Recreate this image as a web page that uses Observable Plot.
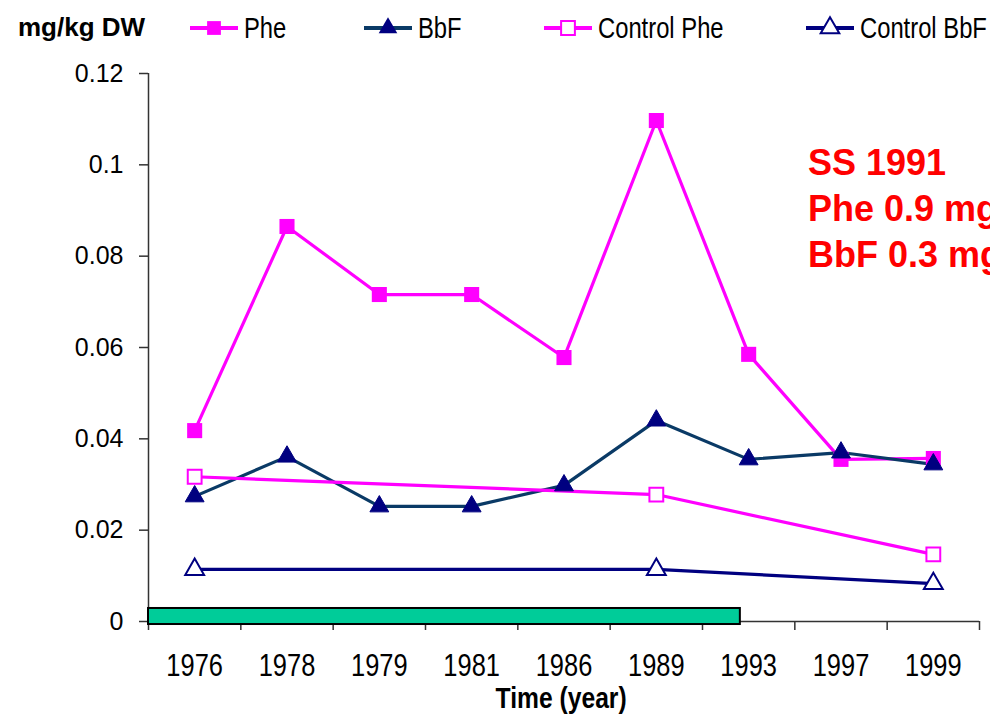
<!DOCTYPE html>
<html>
<head>
<meta charset="utf-8">
<script src="https://cdn.jsdelivr.net/npm/d3@7"></script>
<script src="https://cdn.jsdelivr.net/npm/@observablehq/plot@0.6"></script>
<style>
  html, body { margin: 0; padding: 0; background: #fff; overflow: hidden; }
  #wrap { position: relative; width: 990px; height: 721px; overflow: hidden; font-family: "Liberation Sans", Arial, sans-serif; }
  .abs { position: absolute; white-space: nowrap; }
  .squeeze { display: inline-block; transform: scaleX(0.82); transform-origin: 0 50%; }
  #unit { left: 18px; top: 12px; font: bold 26px "Liberation Sans", Arial, sans-serif; }
  .leg { top: 10px; font-size: 29px; line-height: 36px; display: flex; align-items: center; }
  .leg svg { display: block; margin-right: 4px; }
  #note { left: 808px; top: 140px; font: bold 36px/46px "Liberation Sans", Arial, sans-serif; color: #FF0000; }
  #xlabel { left: 0; width: 1122px; text-align: center; top: 682px; font-weight: bold; font-size: 29px; }
  #xlabel span { display: inline-block; transform: scaleX(0.85); transform-origin: 50% 50%; }
</style>
</head>
<body>
<div id="wrap"></div>
<script>
// ---- data ----
const years = ["1976", "1978", "1979", "1981", "1986", "1989", "1993", "1997", "1999"];
const phe = [0.0418, 0.0865, 0.0716, 0.0716, 0.0578, 0.1097, 0.0585, 0.0355, 0.0357];
const bbf = [0.0274, 0.0361, 0.0252, 0.0252, 0.0298, 0.0440, 0.0355, 0.0370, 0.0344];
const controlPhe = [0.0317, null, null, null, null, 0.0278, null, null, 0.0147];
const controlBbf = [0.0114, null, null, null, null, 0.0114, null, null, 0.0083];
const yTicks = [0, 0.02, 0.04, 0.06, 0.08, 0.1, 0.12];
const yTickLabels = ["0", "0.02", "0.04", "0.06", "0.08", "0.1", "0.12"];
// green period bar, in category-position units (start, end) and value span
const periodBar = [{x1: 0, x2: 6.41, y1: -0.00066, y2: 0.00285}];
const legendItems = [
  {name: "Phe", color: "#FF00FF", line: "#FF00FF", symbol: "square", hollow: false, left: 190},
  {name: "BbF", color: "#000080", line: "#0A3A66", symbol: "triangle", hollow: false, left: 364},
  {name: "Control Phe", color: "#FF00FF", line: "#FF00FF", symbol: "square", hollow: true, left: 544},
  {name: "Control BbF", color: "#000080", line: "#000080", symbol: "triangle", hollow: true, left: 806}
];
const noteLines = ["SS 1991", "Phe 0.9 mg/kg", "BbF 0.3 mg/kg"];
const xTitle = "Time (year)";
const unitTitle = "mg/kg DW";

// ---- build rows ----
const rows = years.map((y, i) => ({pos: i + 0.5, year: y, phe: phe[i], bbf: bbf[i], cphe: controlPhe[i], cbbf: controlBbf[i]}));
const cPheRows = rows.filter(d => d.cphe != null);
const cBbfRows = rows.filter(d => d.cbbf != null);

const chart = Plot.plot({
  width: 990,
  height: 721,
  marginLeft: 148,
  marginRight: 11,
  marginTop: 73,
  marginBottom: 100,
  style: {background: "white", color: "black", fontFamily: "Liberation Sans, Arial, sans-serif"},
  x: {type: "linear", domain: [0, years.length], axis: null},
  y: {domain: [0, 0.12], axis: null},
  marks: [
    Plot.axisY({ticks: yTicks, tickFormat: d => yTickLabels[yTicks.indexOf(d)], tickSize: 9, tickPadding: 16,
      fontSize: 25, stroke: "#333", strokeWidth: 1.5, label: null}),
    Plot.axisX({ticks: d3.range(years.length + 1), tickFormat: () => "", tickSize: 9, stroke: "#333", strokeWidth: 1.5, label: null}),
    Plot.axisX({ticks: rows.map(d => d.pos), tickFormat: d => years[Math.floor(d)], tickSize: 0, tickPadding: 32,
      fontSize: 31, label: null, ariaLabel: "xlabels"}),
    Plot.ruleX([0], {y1: 0, y2: 0.12, stroke: "#333", strokeWidth: 1.5}),
    Plot.ruleY([0], {stroke: "#333", strokeWidth: 1.5}),
    Plot.rect(periodBar, {x1: "x1", x2: "x2", y1: "y1", y2: "y2", fill: "#00CC99", stroke: "black", strokeWidth: 2}),
    Plot.line(rows, {x: "pos", y: "phe", stroke: "#FF00FF", strokeWidth: 3.2}),
    Plot.line(rows, {x: "pos", y: "bbf", stroke: "#0A3A66", strokeWidth: 3.2}),
    Plot.line(cPheRows, {x: "pos", y: "cphe", stroke: "#FF00FF", strokeWidth: 3.2}),
    Plot.line(cBbfRows, {x: "pos", y: "cbbf", stroke: "#000080", strokeWidth: 3.2}),
    Plot.dot(rows, {x: "pos", y: "phe", symbol: "square", r: 8.5, fill: "#FF00FF", stroke: "#FF00FF", strokeWidth: 0}),
    Plot.dot(rows, {x: "pos", y: "bbf", symbol: "triangle", r: 7, fill: "#000080", stroke: "#000080", strokeWidth: 1}),
    Plot.dot(cPheRows, {x: "pos", y: "cphe", symbol: "square", r: 7.8, fill: "white", stroke: "#FF00FF", strokeWidth: 2}),
    Plot.dot(cBbfRows, {x: "pos", y: "cbbf", symbol: "triangle", r: 7, fill: "white", stroke: "#000080", strokeWidth: 2})
  ]
});

const wrap = document.getElementById("wrap");
chart.style.position = "absolute";
chart.style.left = "0";
chart.style.top = "0";
wrap.appendChild(chart);

// condense the x tick labels (narrow face in the original)
const yearSet = new Set(years);
chart.querySelectorAll("text").forEach(t => {
  if (!yearSet.has(t.textContent)) return;
  const w = t.getComputedTextLength();
  if (w > 0) {
    t.setAttribute("textLength", (w * 0.82).toFixed(1));
    t.setAttribute("lengthAdjust", "spacingAndGlyphs");
  }
});

// unit label
const unit = document.createElement("div");
unit.id = "unit"; unit.className = "abs"; unit.textContent = unitTitle;
wrap.appendChild(unit);

// legend
const ns = "http://www.w3.org/2000/svg";
for (const it of legendItems) {
  const div = document.createElement("div");
  div.className = "abs leg";
  div.style.left = it.left + "px";
  const svg = document.createElementNS(ns, "svg");
  svg.setAttribute("width", 50); svg.setAttribute("height", 36);
  const ln = document.createElementNS(ns, "line");
  ln.setAttribute("x1", 0); ln.setAttribute("x2", 48); ln.setAttribute("y1", 18); ln.setAttribute("y2", 18);
  ln.setAttribute("stroke", it.line); ln.setAttribute("stroke-width", 4);
  svg.appendChild(ln);
  const p = document.createElementNS(ns, "path");
  const sym = it.symbol === "square" ? d3.symbolSquare : d3.symbolTriangle;
  p.setAttribute("d", d3.symbol(sym, it.symbol === "square" ? 190 : 150)());
  p.setAttribute("transform", "translate(24,18)");
  p.setAttribute("fill", it.hollow ? "white" : it.color);
  p.setAttribute("stroke", it.color);
  p.setAttribute("stroke-width", it.hollow ? 2 : 0);
  svg.appendChild(p);
  div.appendChild(svg);
  const t = document.createElement("span");
  t.className = "squeeze";
  t.textContent = it.name;
  div.appendChild(t);
  wrap.appendChild(div);
}

// annotation
const note = document.createElement("div");
note.id = "note"; note.className = "abs";
note.innerHTML = noteLines.map(s => `<div>${s}</div>`).join("");
wrap.appendChild(note);

// x title
const xl = document.createElement("div");
xl.id = "xlabel"; xl.className = "abs";
const xs = document.createElement("span");
xs.textContent = xTitle;
xl.appendChild(xs);
wrap.appendChild(xl);
</script>
</body>
</html>
